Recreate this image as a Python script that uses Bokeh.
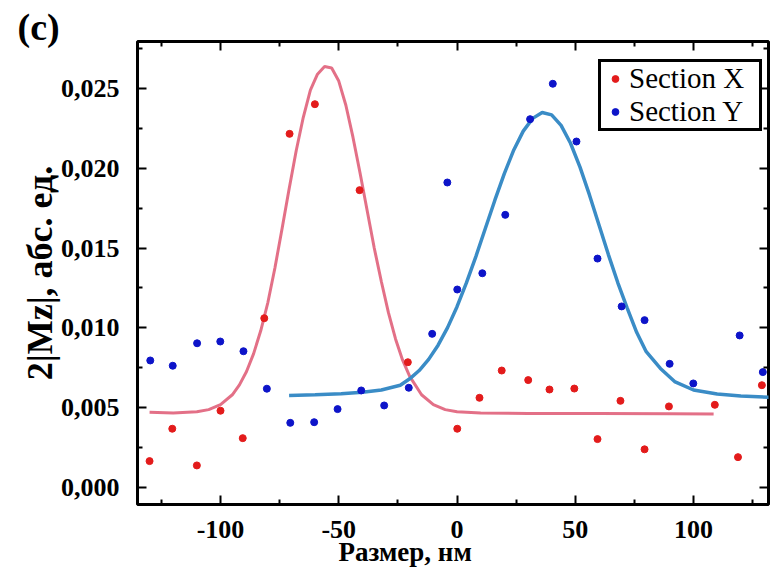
from bokeh.plotting import figure
from bokeh.models import Range1d, LinearAxis, FixedTicker, Legend, LegendItem, Title
from bokeh.embed import file_html
from bokeh.resources import INLINE

# ---- data ----
red_x = [-130, -120.4, -110, -100, -90.6, -81.5, -70.8, -60.1, -41.2, -20.8, 0.1, 9.5,
         18.9, 30.1, 39.1, 49.6, 59.4, 69.1, 79.3, 89.6, 109, 118.8, 128.9]
red_y = [0.00164, 0.00367, 0.00137, 0.0048, 0.00308, 0.0106, 0.02216, 0.02402, 0.01863,
         0.00784, 0.00367, 0.00561, 0.00732, 0.00672, 0.00613, 0.00619, 0.00302, 0.00542,
         0.00238, 0.00507, 0.00517, 0.00189, 0.0064]

blue_x = [-129.7, -120.2, -109.9, -100.1, -90.3, -80.4, -70.5, -60.4, -50.5, -40.5, -30.8,
          -20.4, -10.5, -4.1, 0.1, 10.7, 20.4, 30.9, 40.5, 50.5, 59.4, 69.6, 79.3, 89.9,
          99.9, 119.5, 129.3]
blue_y = [0.00795, 0.00762, 0.00903, 0.00914, 0.00853, 0.00618, 0.00404, 0.00408, 0.0049,
          0.00607, 0.00513, 0.00624, 0.00962, 0.01911, 0.0124, 0.01342, 0.01708, 0.02308,
          0.0253, 0.02168, 0.01434, 0.01134, 0.01048, 0.00774, 0.00651, 0.00952, 0.00722]

fit_red_x = [-130, -120, -110, -105, -100, -95, -92, -89, -86, -83, -80, -77, -74, -71, -68,
             -65, -62, -59, -56, -53, -50, -47, -44, -41, -38, -35, -32, -29, -26, -23,
             -20, -15, -10, -5, 0, 10, 30, 60, 90, 108.5]
fit_red_y = [0.0047, 0.00465, 0.00473, 0.00487, 0.00518, 0.0058, 0.00642, 0.00726, 0.00838,
             0.00981, 0.01157, 0.01375, 0.0162, 0.0187, 0.0211, 0.0232, 0.0249, 0.0259,
             0.02638, 0.02629, 0.02547, 0.02395, 0.02195, 0.0197, 0.01735, 0.015, 0.0129,
             0.01095, 0.0093, 0.00797, 0.00695, 0.0058, 0.00518, 0.00487, 0.00473, 0.00466,
             0.00463, 0.00462, 0.00461, 0.0046]

fit_blue_x = [-71, -60, -49, -40, -32, -24, -20, -16, -12, -8, -4, 0, 4, 8, 12, 16, 20, 24,
              28, 32, 36, 40, 44, 48, 52, 56, 60, 64, 68, 72, 76, 80, 86, 92, 100, 110, 120, 132]
fit_blue_y = [0.00576, 0.0058, 0.00587, 0.00596, 0.0061, 0.0064, 0.0068, 0.00732, 0.00802,
              0.00891, 0.01001, 0.01132, 0.01283, 0.01448, 0.01624, 0.018, 0.01967, 0.02115,
              0.02233, 0.02313, 0.0235, 0.02335, 0.02269, 0.02157, 0.02007, 0.01833, 0.01646,
              0.01459, 0.01282, 0.01122, 0.0097, 0.0085, 0.00745, 0.00663, 0.0061, 0.00585,
              0.00572, 0.00565]

x_ticks = [-100, -50, 0, 50, 100]
x_tick_labels = ["-100", "-50", "0", "50", "100"]
x_minor = [-125, -75, -25, 25, 75, 125]
y_ticks = [0.0, 0.005, 0.01, 0.015, 0.02, 0.025]
y_tick_labels = ["0,000", "0,005", "0,010", "0,015", "0,020", "0,025"]
y_minor = [0.0025, 0.0075, 0.0125, 0.0175, 0.0225, 0.0275]

series_names = ["Section X", "Section Y"]
panel_tag = "(c)"
x_title = "Размер, нм"
y_title = "2|Mz|, абс. ед."

RED = "#e31b1b"
BLUE = "#0d14c9"
FONT = "Liberation Serif"

p = figure(width=770, height=571, output_backend="svg", toolbar_location=None,
           x_range=Range1d(-135.1, 131.7), y_range=Range1d(-0.00108, 0.02795),
           min_border_left=137, min_border_right=2, min_border_top=41, min_border_bottom=67)
p.xgrid.visible = False
p.ygrid.visible = False
p.outline_line_color = "black"
p.outline_line_width = 3
p.background_fill_color = "white"


def style_axis(ax, ticks, minor, labels, show_labels, standoff):
    ax.ticker = FixedTicker(ticks=ticks, minor_ticks=minor)
    ax.axis_line_color = None
    ax.major_tick_in = 9
    ax.major_tick_out = 0
    ax.minor_tick_in = 5
    ax.minor_tick_out = 0
    ax.major_tick_line_width = 2
    ax.minor_tick_line_width = 2
    ax.major_tick_line_color = "black"
    ax.minor_tick_line_color = "black"
    if show_labels:
        ax.major_label_overrides = dict(zip(ticks, labels))
        ax.major_label_text_font = FONT
        ax.major_label_text_font_style = "bold"
        ax.major_label_text_font_size = "26px"
        ax.major_label_text_color = "black"
        ax.major_label_standoff = standoff
    else:
        ax.major_label_overrides = {t: "" for t in ticks}
        ax.major_label_text_font_size = "0px"
        ax.major_label_standoff = 0


style_axis(p.xaxis[0], x_ticks, x_minor, x_tick_labels, True, 16)
style_axis(p.yaxis[0], y_ticks, y_minor, y_tick_labels, True, 18)

yax = p.yaxis[0]
yax.axis_label = y_title
yax.axis_label_text_font = FONT
yax.axis_label_text_font_style = "bold"
yax.axis_label_text_font_size = "36px"
yax.axis_label_text_color = "black"
yax.axis_label_standoff = -2

top_ax = LinearAxis()
style_axis(top_ax, x_ticks, x_minor, x_tick_labels, False, 0)
p.add_layout(top_ax, "above")
right_ax = LinearAxis()
style_axis(right_ax, y_ticks, y_minor, y_tick_labels, False, 0)
p.add_layout(right_ax, "right")

p.line(fit_red_x, fit_red_y, line_color="#e0607a", line_width=3, line_alpha=0.9)
p.line(fit_blue_x, fit_blue_y, line_color="#3a8cc6", line_width=3.5)
r_red = p.scatter(red_x, red_y, size=7, fill_color=RED, line_color=RED)
r_blue = p.scatter(blue_x, blue_y, size=7, fill_color=BLUE, line_color=BLUE)

legend = Legend(items=[LegendItem(label=series_names[0], renderers=[r_red]),
                       LegendItem(label=series_names[1], renderers=[r_blue])],
                location=(461, 373), margin=0, padding=0, spacing=0,
                glyph_width=28, glyph_height=17, label_height=17, label_standoff=0,
                label_width=130,
                label_text_font=FONT, label_text_font_size="29px",
                label_text_color="black",
                border_line_color="black", border_line_width=3, border_line_alpha=1.0,
                background_fill_color="white", background_fill_alpha=1.0)
p.add_layout(legend)

# panel tag "(c)" as the plot title, pulled to the top-left corner
p.title = Title(text=panel_tag, align="left", offset=-120, standoff=-12,
                vertical_align="bottom", text_font=FONT, text_font_style="bold",
                text_font_size="38px", text_color="black")

# x axis title, placed where the reference shows it
p.add_layout(Title(text=x_title, align="left", offset=201, standoff=-8,
                   vertical_align="top", text_font=FONT, text_font_style="bold",
                   text_font_size="27px", text_color="black"), "below")

open("out.html", "w").write(file_html(p, INLINE))
